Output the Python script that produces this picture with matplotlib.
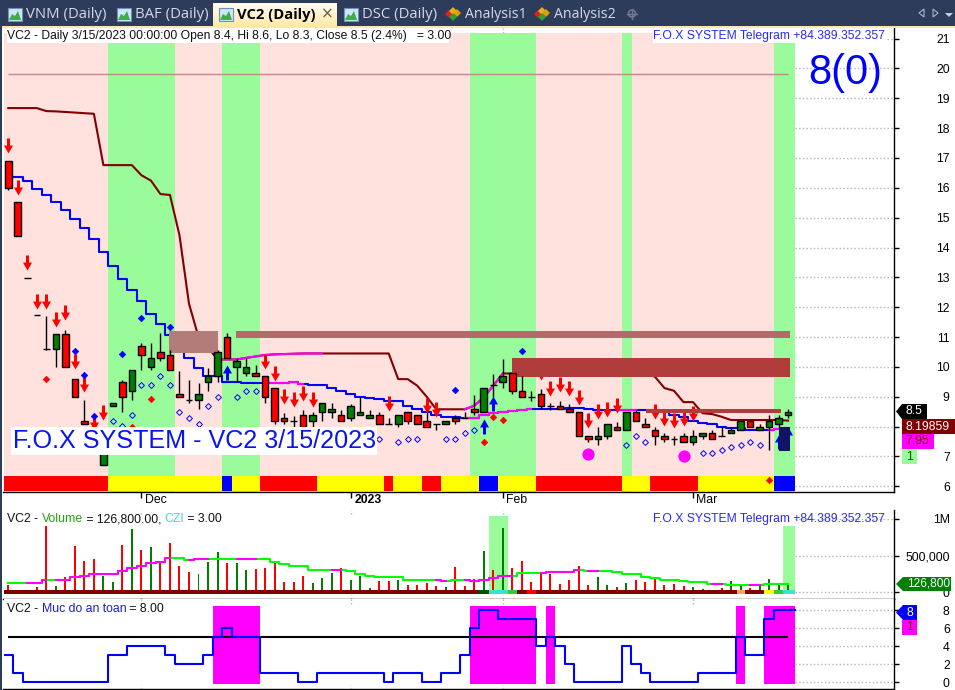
import matplotlib
matplotlib.use("Agg")
import matplotlib.pyplot as plt
import numpy as np
from matplotlib.patches import Rectangle, Polygon, Circle
from matplotlib.path import Path
from matplotlib.transforms import ScaledTranslation

plt.rcParams['font.family'] = ['Liberation Sans', 'DejaVu Sans']

# price candles, one value per trading day
opens = [16.91, 15.51, 12.98, 11.73, 10.6, 10.6, 11.1, 9.6, 8.2, 7.7, 6.7, 8.7, 9.5, 9.2, 10.7, 10.0, 10.5, 10.4, 9.1, 8.9, 8.9,
         9.5, 9.7, 11.0, 10.0, 9.8, 9.8, 9.7, 9.3, 8.3, 8.2, 8.4, 8.2, 8.5, 8.5, 8.4, 8.3, 8.4, 8.3, 8.4, 8.1, 8.1,
         8.5, 8.4, 8.2, 8.1, 8.1, 8.3, 8.3, 8.6, 8.5, 9.4, 9.5, 9.8, 9.2, 9.0, 9.1, 8.7, 8.7, 8.6, 8.5, 7.7,
         7.6, 7.7, 8.0, 7.9, 8.5, 8.1, 7.9, 7.7, 7.6, 7.7, 7.5, 7.7, 7.8, 7.7, 7.8, 7.9, 8.2, 7.9, 8.0, 8.1, 8.4]
highs = [16.91, 15.51, 12.98, 11.73, 11.7, 11.1, 11.25, 9.6, 8.9, 7.8, 8.0, 8.8, 9.55, 9.9, 10.8, 10.8, 11.15, 10.55, 9.85, 9.55, 9.45,
         9.95, 10.55, 11.15, 10.3, 10.3, 10.05, 9.7, 9.3, 8.45, 8.35, 8.55, 8.5, 8.8, 8.8, 8.55, 8.75, 9.0, 8.55, 8.5, 8.3, 8.4,
         8.5, 8.4, 8.5, 8.1, 8.2, 8.4, 8.5, 9.05, 9.3, 9.75, 10.25, 9.8, 9.7, 9.2, 9.25, 8.8, 8.85, 8.75, 8.5, 7.7,
         8.0, 8.1, 8.15, 8.5, 8.55, 8.3, 8.0, 7.8, 7.7, 7.8, 7.9, 7.8, 7.9, 8.0, 8.0, 8.2, 8.2, 8.1, 8.4, 8.4, 8.6]
lows = [15.92, 14.4, 12.98, 11.73, 10.58, 10.0, 10.0, 9.0, 8.1, 7.3, 6.7, 8.7, 8.5, 8.9, 9.9, 9.9, 10.2, 9.9, 9.0, 8.8, 8.6,
        9.2, 9.5, 10.3, 9.5, 9.7, 9.7, 8.8, 8.1, 8.1, 8.0, 8.0, 8.0, 8.2, 8.3, 8.2, 8.2, 8.4, 8.3, 8.1, 8.1, 8.0,
        8.1, 8.1, 8.0, 7.9, 8.1, 8.1, 8.3, 8.4, 8.5, 9.0, 9.3, 9.1, 9.0, 8.85, 8.6, 8.55, 8.6, 8.5, 7.7, 7.5,
        7.4, 7.6, 7.9, 7.9, 8.2, 8.0, 7.4, 7.5, 7.4, 7.5, 7.4, 7.6, 7.6, 7.7, 7.8, 7.9, 8.0, 7.9, 7.2, 8.0, 8.3]
closes = [15.99, 14.4, 12.98, 11.73, 10.6, 11.1, 10.0, 9.0, 8.1, 7.4, 7.5, 8.8, 9.0, 9.9, 10.4, 10.3, 10.3, 9.9, 9.0, 8.9, 9.1,
          9.7, 10.5, 10.3, 10.2, 10.0, 9.7, 9.0, 8.2, 8.2, 8.2, 8.0, 8.4, 8.8, 8.6, 8.2, 8.7, 8.5, 8.4, 8.1, 8.1, 8.4,
          8.2, 8.1, 8.0, 8.1, 8.2, 8.2, 8.3, 8.5, 9.3, 9.4, 9.7, 9.2, 9.0, 9.0, 8.7, 8.7, 8.6, 8.5, 7.7, 7.6,
          7.7, 8.1, 7.9, 8.5, 8.2, 8.0, 7.7, 7.6, 7.6, 7.5, 7.7, 7.8, 7.6, 7.7, 7.9, 8.2, 8.0, 8.0, 8.2, 8.3, 8.5]

# stop lines on the price pane
upper_stop = [18.67, 18.67, 18.67, 18.67, 18.57, 18.56, 18.54, 18.52, 18.5, 18.48, 16.76, 16.76, 16.76, 16.76, 16.42, 16.24, 15.79,
              15.76, 14.41, 12.12, 11.0, 10.65, 10.25, 10.25, 10.25, 10.3, 10.35, 10.4, 10.42, 10.43, 10.44, 10.45, 10.45, 10.45,
              10.45, 10.45, 10.45, 10.45, 10.45, 10.45, 10.45, 9.59, 9.59, 9.37, 9.0, 8.58, 8.58, 8.58, 8.58, 8.7, 8.98, 9.37,
              9.78, 9.78, 9.8, 9.8, 9.8, 9.8, 9.8, 9.8, 9.8, 9.8, 9.8, 9.8, 9.8, 9.8, 9.8, 9.8, 9.67, 9.29, 9.2, 8.82, 8.82,
              8.45, 8.42, 8.33, 8.22, 8.22, 8.22, 8.22, 8.22, 8.22, 8.2]
lower_stop = [16.36, 16.36, 16.22, 15.97, 15.75, 15.53, 15.27, 14.97, 14.64, 14.28, 13.85, 13.38, 12.93, 12.56, 12.2, 11.78, 11.44,
              11.07, 10.7, 10.29, 9.96, 9.7, 9.7, 9.51, 9.51, 9.45, 9.45, 9.45, 9.47, 9.47, 9.48, 9.44, 9.4, 9.38, 9.28, 9.19,
              9.09, 9.0, 8.95, 8.92, 8.87, 8.85, 8.7, 8.59, 8.48, 8.38, 8.33, 8.31, 8.29, 8.29, 8.38, 8.45, 8.48, 8.53, 8.56,
              8.58, 8.58, 8.58, 8.59, 8.61, 8.61, 8.58, 8.56, 8.55, 8.55, 8.55, 8.55, 8.55, 8.55, 8.48, 8.4, 8.31, 8.18, 8.12,
              8.09, 8.0, 7.96, 7.96, 7.89, 7.89, 7.89, 7.92, 7.95]
upper_magenta = [(22, 33), (48, 52)]
lower_magenta = [(27, 31), (48, 55), (64, 66), (80, 82)]

# signals: (bar, price)
sell_bars = [0, 1, 2, 3, 4, 5, 6, 7, 8, 9, 10, 27, 28, 29, 30, 31, 32, 40, 44, 45, 56, 57, 58, 59, 60, 61, 62, 63, 64, 68, 69, 70, 71, 72]
sell_tips = [17.17, 15.77, 13.24, 11.95, 11.95, 11.33, 11.56, 9.92, 9.15, 7.87, 8.23, 9.94, 9.53, 8.76, 8.64, 8.85, 8.65, 8.53, 8.45, 8.33,
             9.56, 9.03, 9.15, 9.03, 8.73, 7.96, 8.25, 8.33, 8.45, 8.25, 8.03, 7.96, 8.03, 8.18]
buy_bars = [23, 50, 51, 81, 82]
buy_tips = [10.06, 8.26, 9.03, 7.75, 8.0]
blue_dia_bars = [7, 8, 9, 12, 14, 17, 47, 54]
blue_dia_vals = [10.53, 9.73, 8.35, 10.43, 11.64, 11.33, 9.23, 10.53]
red_dia_bars = [4, 13, 15, 50, 51, 52, 80]
red_dia_vals = [9.61, 7.98, 8.91, 7.5, 8.31, 8.21, 6.2]
hollow_bars = [11, 12, 13, 14, 15, 16, 17, 18, 19, 20, 21, 22, 24, 25, 26, 39, 41, 42, 43, 46, 47, 48, 49, 65, 66, 67, 73, 74, 75, 76, 77, 78, 79]
hollow_vals = [8.2, 8.01, 8.4, 9.4, 9.4, 9.7, 9.4, 8.5, 8.3, 8.1, 8.7, 9.0, 9.0, 9.2, 9.2, 7.6, 7.5, 7.6, 7.6, 7.6, 7.6, 7.8, 7.9,
               7.4, 7.7, 7.5, 7.1, 7.1, 7.2, 7.3, 7.4, 7.5, 7.4]
circle_bars = [61, 71]
circle_vals = [7.09, 7.0]

# background state and ribbon, as ranges of bars
green_ranges = [(10.5, 17.5), (22.5, 26.5), (48.5, 55.5), (64.5, 65.55), (80.5, 82.7)]
ribbon_edges = [-0.45, 10.5, 22.5, 23.5, 26.5, 32.5, 39.5, 40.5, 43.5, 45.5, 49.5, 51.5, 55.5, 64.5, 67.5, 72.5, 80.5, 82.7]
ribbon_colors = ['red', 'yellow', 'blue', 'yellow', 'red', 'yellow', 'red', 'yellow', 'red', 'yellow', 'blue', 'yellow', 'red',
                 'yellow', 'red', 'yellow', 'blue']
# supply zones: left bar, right bar, low, high, colour
zone_left = [16.9, 23.95, 52.97, 67.06]
zone_right = [22.05, 82.2, 82.2, 81.2]
zone_low = [10.47, 10.97, 9.67, 8.47]
zone_high = [11.2, 11.2, 10.3, 8.6]
zone_colors = ['#b27c78', '#b56a6a', '#b03c3c', '#b03c3c']

# volume pane
volumes = [100, 18, 5, 68, 904, 86, 209, 632, 427, 454, 222, 140, 645, 863, 577, 618, 400, 672, 359, 277, 250, 413, 550, 400, 400,
           304, 318, 331, 427, 140, 140, 222, 127, 195, 263, 331, 168, 222, 59, 154, 154, 168, 100, 100, 127, 86, 72, 345, 86, 181,
           563, 304, 877, 331, 427, 140, 250, 250, 113, 168, 359, 100, 209, 100, 72, 127, 168, 140, 181, 100, 113, 86, 72, 45, 31,
           59, 154, 86, 59, 86, 181, 113, 126.8]
vol_green = [5, 10, 11, 13, 15, 20, 21, 22, 24, 25, 32, 33, 34, 36, 37, 38, 41, 46, 50, 52, 62, 63, 65, 72, 73, 76, 77, 79, 80, 81, 82]
vol_ma = [131, 131, 131, 131, 172, 172, 172, 209, 222, 254, 254, 254, 295, 336, 354, 395, 418, 472, 472, 445, 459, 459, 459, 459, 459,
          459, 459, 459, 418, 381, 354, 354, 309, 309, 309, 309, 295, 254, 227, 213, 213, 213, 172, 172, 172, 172, 154, 172, 163, 154,
          163, 191, 227, 227, 263, 263, 263, 281, 281, 281, 304, 295, 295, 295, 272, 254, 254, 213, 200, 172, 163, 154, 145, 136, 118,
          118, 100, 100, 100, 100, 109, 109, 109]
vol_magenta = [(2, 4), (5, 17), (19, 21), (24, 26), (34, 35), (45, 46), (48, 53), (56, 60), (61, 62), (74, 75), (78, 79)]
strip_edges = [-0.45, 49.4, 50.5, 52.5, 53.5, 54.5, 55.5, 76.6, 77.5, 79.5, 80.5, 81.5, 82.7]
strip_colors = ['#800000', '#005000', '#40e0d0', '#32cd32', '#800000', 'red', '#800000', '#f4a460', '#800000', 'yellow', '#32cd32', '#40e0d0']
czi_ranges = [(50.5, 52.5, 1040), (81.5, 82.7, 904)]

# safety pane
safety = [3, 1, 0, 0, 0, 0, 0, 0, 0, 0, 0, 3, 3, 4, 4, 4, 4, 3, 2, 2, 2, 3, 5, 6, 5, 5, 5, 1, 1, 1, 1, 0, 0, 1, 1, 1, 1, 1, 1, 1, 0, 1,
          1, 1, 0, 0, 1, 1, 3, 6, 8, 8, 7, 7, 7, 7, 4, 5, 4, 2, 0, 0, 0, 0, 0, 4, 2, 1, 0, 0, 0, 0, 0, 1, 1, 1, 1, 5, 3, 3, 7, 8, 8]
safe_level = 5

price_ticks = list(range(6, 22))
price_tick_labels = ['' if t == 8 else str(t) for t in price_ticks]  # 8 sits under the value tags
vol_ticks = [0, 500, 1000]
vol_tick_labels = ['0', '500,000', '1M']
safety_ticks = [0, 2, 4, 6, 8]
date_bars = [14, 36, 52, 72]
date_labels = ['Dec', '2023', 'Feb', 'Mar']

tab_names = ['VNM (Daily)', 'BAF (Daily)', 'VC2 (Daily)', 'DSC (Daily)', 'Analysis1', 'Analysis2']
tab_text_x = [26, 135, 237, 362, 465, 554]
tab_sizes = [10.7, 10.7, 10.6, 10.7, 10.2, 10.2]
header_main = 'VC2 - Daily 3/15/2023 00:00:00 Open 8.4, Hi 8.6, Lo 8.3, Close 8.5 (2.4%)   = 3.00'
telegram = 'F.O.X SYSTEM Telegram +84.389.352.357'
big_label = 'F.O.X SYSTEM - VC2 3/15/2023'

W, H = 955, 690
X0, DX = 8.3, 9.51  # pixel of first bar, pixels per bar
n = len(closes)
xs = np.arange(n)
PINK = '#ffe1de'
LIGHTGREEN = '#99fb99'
GRID = '#b4b4b4'


def py(y):
    # price at a pixel row of the main pane
    return 6 + (486.3 - y) / 29.85


def pane(x0, y0, x1, y1, ymin, ymax):
    ax = fig.add_axes([x0 / W, 1 - y1 / H, (x1 - x0) / W, (y1 - y0) / H])
    ax.set_xlim((x0 - X0) / DX, (x1 - X0) / DX)
    ax.set_ylim(ymin, ymax)
    ax.set_facecolor('white')
    for s in ['left', 'top']:
        ax.spines[s].set_visible(False)
    ax.yaxis.tick_right()
    ax.tick_params(axis='y', length=3.6, width=1, labelsize=8.8, pad=36.5, colors='black')
    for s in ['right', 'bottom']:
        ax.spines[s].set_linewidth(1.0)
    return ax


def right_ticks(ax, ticks, labels=None):
    ax.set_yticks(ticks)
    ax.set_yticklabels(labels if labels else [str(t) for t in ticks], ha='right')
    ax.hlines(ticks, 82.7, ax.get_xlim()[1], colors=GRID, linestyles=':', lw=1, zorder=0)


def overlay_lines(ax, values, spans, color, steps=True):
    ds = 'steps-mid' if steps else 'default'
    for a, b in spans:
        ax.plot(xs[a:b + 1], values[a:b + 1], color=color, lw=1.5, drawstyle=ds, zorder=2.1)


def arrow_marker(up):
    pts = [(0, 0), (0.3, 0.53), (0.1, 0.53), (0.1, 1), (-0.1, 1), (-0.1, 0.53), (-0.3, 0.53), (0, 0)]
    if up:
        pts = [(x, -y) for x, y in pts]
    return Path(pts, closed=True)


def text_run(ax, x, y, pieces, size):
    # write coloured pieces one after the other
    rend = fig.canvas.get_renderer()
    for s, c in pieces:
        t = ax.text(x, y, s, color=c, fontsize=size, va='center', ha='left', zorder=20)
        x += t.get_window_extent(rend).width


fig = plt.figure(figsize=(W / 100, H / 100), dpi=100, facecolor='white')

# ---- price pane ----
ax = pane(3.5, 28, 894, 492, py(492), py(28))
band_top = py(33)
band_bot = py(491.5)
ax.add_patch(Rectangle((-0.45, band_bot), 83.15, band_top - band_bot, fc=PINK, ec='none', zorder=0.5))
for a, b in green_ranges:
    ax.add_patch(Rectangle((a, band_bot), b - a, band_top - band_bot, fc=LIGHTGREEN, ec='none', zorder=0.6))
ribbon_top = py(476)
ribbon_bot = py(491)
for i, c in enumerate(ribbon_colors):
    ax.add_patch(Rectangle((ribbon_edges[i], ribbon_bot), ribbon_edges[i + 1] - ribbon_edges[i], ribbon_top - ribbon_bot,
                           fc=c, ec='none', zorder=1))
right_ticks(ax, price_ticks, price_tick_labels)
ax.vlines(date_bars, band_top, ax.get_ylim()[1], colors=GRID, linestyles=':', lw=1, zorder=0)
ax.hlines(19.8, 0, 82, color='#c08a90', lw=1, zorder=1.5)

ax.plot(xs, upper_stop, color='#800000', lw=1.5, zorder=2)
overlay_lines(ax, upper_stop, upper_magenta, '#ff00ff', steps=False)
ax.plot(xs, lower_stop, color='#0000ff', lw=1.5, drawstyle='steps-mid', zorder=2)
overlay_lines(ax, lower_stop, lower_magenta, '#ff00ff')

ax.plot(sell_bars, sell_tips, ls='none', marker=arrow_marker(False), ms=21.6, mfc='#ff0000', mew=0, zorder=3)
ax.plot(buy_bars, buy_tips, ls='none', marker=arrow_marker(True), ms=21.6, mfc='#0000ff', mew=0, zorder=3)
ax.plot(blue_dia_bars, blue_dia_vals, ls='none', marker='D', ms=3.4, mfc='#0000ff', mec='#0000ff', mew=0.4, zorder=3)
ax.plot(red_dia_bars, red_dia_vals, ls='none', marker='D', ms=3.4, mfc='#ff0000', mec='#ff0000', mew=0.4, zorder=3)
ax.plot(hollow_bars, hollow_vals, ls='none', marker='D', ms=3.0, mfc='none', mec='#0000ff', mew=0.7, zorder=3)
ax.plot(circle_bars, circle_vals, ls='none', marker='o', ms=8.8, mfc='#ff00ff', mew=0, zorder=3)

for i in range(4):
    ax.add_patch(Rectangle((zone_left[i], zone_low[i]), zone_right[i] - zone_left[i], zone_high[i] - zone_low[i],
                           fc=zone_colors[i], ec='none', zorder=4))

ax.vlines(xs, lows, highs, color='black', lw=1, zorder=5)
body_colors = ['#008000' if c > o else '#ff0000' for o, c in zip(opens, closes)]
ax.bar(xs, np.array(closes) - np.array(opens), bottom=opens, width=0.7, color=body_colors, edgecolor='black', lw=1, zorder=5.1)
# navy block at the last bars
ax.add_patch(Rectangle((81.04, 7.17), 1.11, 0.82, fc='#0f1464', ec='none', zorder=4.5))

ax.set_xticks(date_bars)
ax.set_xticklabels(date_labels, ha='left', fontsize=8.8)
ax.get_xticklabels()[1].set_fontweight('bold')
ax.tick_params(axis='x', length=4.3, width=1, pad=-3)
shift = ScaledTranslation(2.5 / 72, 0, fig.dpi_scale_trans)
for lab in ax.get_xticklabels():
    lab.set_transform(lab.get_transform() + shift)

# ---- volume pane ----
axv = pane(3.5, 509.5, 894, 599, (592.3 - 599) / 73.3 * 1000, (592.3 - 509.5) / 73.3 * 1000)
right_ticks(axv, vol_ticks, vol_tick_labels)
for a, b, top_val in czi_ranges:
    axv.add_patch(Rectangle((a, 0), b - a, top_val, fc=LIGHTGREEN, ec='none', zorder=0.6))
vol_colors = ['#008000' if i in vol_green else '#ff0000' for i in range(n)]
axv.bar(xs, volumes, width=0.21, color=vol_colors, zorder=1)
axv.plot(xs, vol_ma, color='#00ff00', lw=1.5, drawstyle='steps-mid', zorder=2)
overlay_lines(axv, vol_ma, vol_magenta, '#ff00ff')
strip_top = (592.3 - 590) / 73.3 * 1000
strip_bot = (592.3 - 594) / 73.3 * 1000
for i, c in enumerate(strip_colors):
    axv.add_patch(Rectangle((strip_edges[i], strip_bot), strip_edges[i + 1] - strip_edges[i], strip_top - strip_bot,
                            fc=c, ec='none', zorder=3))
axv.set_xticks([])

# ---- safety pane ----
axs = pane(3.5, 599, 894, 689, (682.3 - 689) / 9, (682.3 - 599) / 9)
right_ticks(axs, safety_ticks)
band_lo = (682.3 - 684) / 9
band_hi = (682.3 - 606) / 9
for i in range(n):
    if safety[i] >= safe_level:
        right = 82.7 if i == n - 1 else i + 0.5
        axs.add_patch(Rectangle((i - 0.5, band_lo), right - i + 0.5, band_hi - band_lo, fc='#ff00ff', ec='none', zorder=0.6))
axs.hlines(safe_level, 0, 82, color='black', lw=1.5, zorder=2)
axs.plot(np.r_[-0.45, xs, 82.7], np.r_[safety[0], safety, safety[-1]], color='#0000ff', lw=1.5, drawstyle='steps-mid', zorder=3)
axs.set_xticks([])
for a_ in (axv, axs):
    y0, y1 = a_.get_ylim()
    stub = (y1 - y0) * 0.05
    a_.vlines(date_bars, y0, y0 + stub, colors=GRID, linestyles=':', lw=1, zorder=0)
    a_.vlines(date_bars, y1 - stub, y1, colors=GRID, linestyles=':', lw=1, zorder=0)

# ---- window chrome and labels, in pixels ----
top = fig.add_axes([0, 0, 1, 1], zorder=10)
top.set_xlim(0, W)
top.set_ylim(H, 0)
top.axis('off')
top.patch.set_alpha(0)

top.add_patch(Rectangle((0, 0), W, 26, fc='#2d3c5a', ec='none'))
top.add_patch(Rectangle((0, 26), W, 2, fc='#fbe7b0', ec='none'))
top.add_patch(Rectangle((0, 0), 2, H, fc='#2d3c5a', ec='none'))
grad = np.linspace(0, 1, 24)[:, None, None] * np.array([[[1.0, 0.91, 0.65]]]) + np.linspace(1, 0, 24)[:, None, None] * np.array([[[1.0, 0.99, 0.95]]])
top.imshow(grad, extent=(213, 337, 27, 3), aspect='auto', zorder=1)
top.set_xlim(0, W)
top.set_ylim(H, 0)

for i, name in enumerate(tab_names):
    active = i == 2
    top.text(tab_text_x[i], 15, name, family=['Open Sans', 'DejaVu Sans'], fontsize=tab_sizes[i], va='center', ha='left', zorder=3,
             color='black' if active else '#d5dae6', fontweight='bold' if active else 'normal')
    if i < 4:
        ix = tab_text_x[i] - 18
        top.add_patch(Rectangle((ix, 8), 14, 13, fc='#cfe6fa', ec='#6f8fb5', lw=0.8, zorder=3))
        top.add_patch(Polygon([(ix + 1, 20), (ix + 4, 14), (ix + 7, 16), (ix + 10, 11), (ix + 13, 20)], fc='#3fae49', ec='none', zorder=4))
    else:
        ix = tab_text_x[i] - 12
        for dx, dy, c in [(-4, 0, '#e02020'), (0, -3, '#e8b020'), (4, -1, '#e0a000'), (0, 3, '#30a030')]:
            top.plot([ix + dx], [14 + dy], marker='D', ms=3.6, mfc=c, mew=0, zorder=4)
top.text(327, 13.5, '\u00d7', color='#6b5a3a', fontsize=11, ha='center', va='center', family='DejaVu Sans', zorder=4)
top.add_patch(Circle((632, 13.5), 3.5, fc='none', ec='#6f7a90', lw=1.2, zorder=3))
top.plot([632, 632], [8.5, 18.5], color='#6f7a90', lw=1, zorder=3)
top.plot([627, 637], [13.5, 13.5], color='#6f7a90', lw=1, zorder=3)
top.add_patch(Polygon([(924, 9), (924, 17), (919, 13)], fc='none', ec='#aab2c4', lw=0.8, zorder=3))
top.add_patch(Polygon([(933, 9), (933, 17), (938, 13)], fc='none', ec='#aab2c4', lw=0.8, zorder=3))
top.add_patch(Polygon([(945, 13), (953, 13), (949, 17)], fc='#c8cedb', ec='none', zorder=3))

# header texts
top.add_patch(Rectangle((7, 29), 442, 14, fc='white', ec='none', zorder=2))
top.text(7, 36, header_main, fontsize=8.72, color='#101010', va='center', ha='left', zorder=3)
top.add_patch(Rectangle((653, 29), 232, 14, fc='white', ec='none', zorder=2))
top.text(653, 36, telegram, fontsize=8.72, color='#2a2af0', va='center', ha='left', zorder=3)
top.text(653, 519, telegram, fontsize=8.72, color='#2a2af0', va='center', ha='left', zorder=3)
top.text(845, 73, '8(0)', fontsize=30, color='#0000ff', va='center', ha='center', zorder=3)

top.add_patch(Rectangle((11, 427), 366, 28, fc='white', ec='none', zorder=2))
top.text(13, 441.5, big_label, fontsize=18.1, color='#0a14ee', va='center', ha='left', zorder=3)

text_run(top, 7, 519, [('VC2 - ', '#101010'), ('Volume', '#2e9a10'), (' = 126,800.00, ', '#101010'), ('CZI', '#40d8d0'), (' = 3.00', '#101010')], 8.8)
text_run(top, 7, 609, [('VC2 - ', '#101010'), ('Muc do an toan', '#1a1ae8'), (' = 8.00', '#101010')], 8.8)

# value tags on the right axis
top.add_patch(Polygon([(896, 411.5), (902, 404), (927, 404), (927, 419), (902, 419)], fc='black', ec='none', zorder=5))
top.text(905, 411.5, '8.5', color='white', fontsize=8.8, va='center', ha='left', zorder=6)
top.add_patch(Rectangle((902, 419), 53, 15, fc='#800000', ec='none', zorder=5))
top.text(905, 426.5, '8.19859', color='white', fontsize=8.8, va='center', ha='left', zorder=6)
top.add_patch(Rectangle((902, 434), 32, 15, fc='#ff00ff', ec='none', zorder=5))
top.text(905, 441.5, '7.95', color='#800000', fontsize=8.8, va='center', ha='left', zorder=6)
top.add_patch(Rectangle((902, 449), 15, 15, fc=LIGHTGREEN, ec='none', zorder=5))
top.text(906, 456.5, '1', color='#006000', fontsize=8.8, va='center', ha='left', zorder=6)
top.add_patch(Polygon([(896, 584), (903, 577), (951, 577), (951, 591), (903, 591)], fc='#008000', ec='none', zorder=5))
top.text(907, 584, '126,800', color='white', fontsize=8.6, va='center', ha='left', zorder=6)
top.add_patch(Polygon([(896, 612.5), (903, 605), (917, 605), (917, 620), (903, 620)], fc='#0000ff', ec='none', zorder=5))
top.text(906, 612.5, '8', color='white', fontsize=8.8, va='center', ha='left', zorder=6)
top.add_patch(Rectangle((902, 620), 15, 15, fc='#ff00ff', ec='none', zorder=5))
top.text(906, 627.5, '1', color='#800000', fontsize=8.8, va='center', ha='left', zorder=6)

fig.savefig('out.png', dpi=100)
